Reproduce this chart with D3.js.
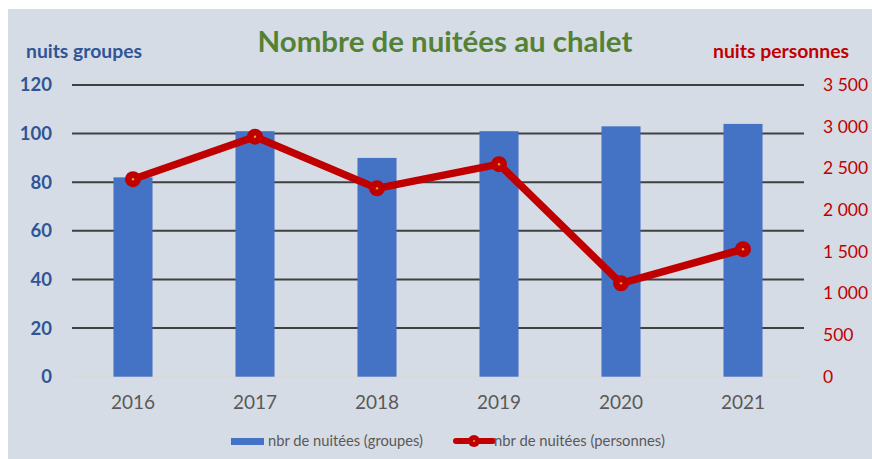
<!DOCTYPE html>
<html><head><meta charset="utf-8">
<script src="https://cdn.jsdelivr.net/npm/d3@7"></script>
<style>html,body{margin:0;padding:0;background:#fff;} svg{display:block;font-family:Lato,"Open Sans",sans-serif;}</style>
</head><body>
<script>
const years = ["2016","2017","2018","2019","2020","2021"];
const groupNights = [82, 101, 90, 101, 103, 104];
const personNights = [2370, 2880, 2260, 2550, 1120, 1530];
const leftTicks = [0, 20, 40, 60, 80, 100, 120];
const rightTicks = [0, 500, 1000, 1500, 2000, 2500, 3000, 3500];
const titleText = "Nombre de nuitées au chalet";
const leftTitle = "nuits groupes";
const rightTitle = "nuits personnes";
const legendBars = "nbr de nuitées (groupes)";
const legendLine = "nbr de nuitées (personnes)";

const W = 872, H = 459;
const svg = d3.select("body").append("svg").attr("width", W).attr("height", H);
svg.append("rect").attr("x", 8).attr("y", 9).attr("width", W - 8).attr("height", H - 9).attr("fill", "#D6DCE5");

const x0 = 72, x1 = 804, yTop = 85, yBot = 376.7;
const x = d3.scaleBand().domain(years).range([x0, x1]).paddingInner(0.68).paddingOuter(0.34);
const yL = d3.scaleLinear().domain([0, 120]).range([yBot, yTop]);
const yR = d3.scaleLinear().domain([0, 3500]).range([yBot, yTop]);

function fitText(sel, target) {
  const w = sel.node().getComputedTextLength();
  const fs = parseFloat(sel.attr("font-size"));
  sel.attr("font-size", (fs * target / w).toFixed(2));
}

// gridlines
svg.append("g").selectAll("line").data(leftTicks).join("line")
  .attr("x1", x0).attr("x2", x1).attr("y1", d => yL(d)).attr("y2", d => yL(d))
  .attr("stroke", d => d === 0 ? "#D9D9D9" : "#404040").attr("stroke-width", 2);

// bars
svg.append("g").selectAll("rect").data(groupNights).join("rect")
  .attr("x", (d, i) => x(years[i])).attr("width", x.bandwidth())
  .attr("y", d => yL(d)).attr("height", d => yBot - yL(d)).attr("fill", "#4472C4");

// line
const line = d3.line().x((d, i) => x(years[i]) + x.bandwidth() / 2).y(d => yR(d));
svg.append("path").datum(personNights).attr("d", line).attr("fill", "none")
  .attr("stroke", "#C00000").attr("stroke-width", 7.5).attr("stroke-linejoin", "round");
const pts = svg.append("g").selectAll("g").data(personNights).join("g")
  .attr("transform", (d, i) => `translate(${x(years[i]) + x.bandwidth() / 2},${yR(d)})`);
pts.append("circle").attr("r", 8).attr("fill", "#C00000");
pts.append("circle").attr("r", 1.2).attr("fill", "#F4A020");

// left axis labels
const la = d3.axisLeft(yL).tickValues(leftTicks).tickSize(0).tickPadding(0);
const gl = svg.append("g").attr("transform", "translate(52,0)").call(la);
gl.select(".domain").remove();
gl.selectAll("text").attr("fill", "#2F5597").attr("font-size", 18.5).attr("font-weight", "bold")
  .attr("font-family", "Lato,sans-serif");

// right axis labels
const ra = d3.axisRight(yR).tickValues(rightTicks).tickSize(0).tickPadding(0)
  .tickFormat(d => d3.format(",")(d).replace(/,/g, "\u00A0"));
const gr = svg.append("g").attr("transform", "translate(823,0)").call(ra);
gr.select(".domain").remove();
gr.selectAll("text").attr("fill", "#C00000").attr("font-size", 17.5).attr("font-family", "Lato,sans-serif");

// x axis labels
const xa = d3.axisBottom(x).tickSize(0).tickPadding(0);
const gx = svg.append("g").attr("transform", "translate(0,395)").call(xa);
gx.select(".domain").remove();
gx.selectAll("text").attr("fill", "#595959").attr("font-size", 19).attr("font-family", "Lato,sans-serif");

// titles
const t = svg.append("text").attr("x", 445).attr("y", 52).attr("text-anchor", "middle")
  .attr("font-size", 27).attr("font-weight", "bold").attr("fill", "#548235").text(titleText);
fitText(t, 375);
const lt = svg.append("text").attr("x", 26).attr("y", 58).attr("font-size", 16).attr("font-weight", "bold")
  .attr("fill", "#2F5597").text(leftTitle);
fitText(lt, 116);
const rt = svg.append("text").attr("x", 713).attr("y", 58).attr("font-size", 16).attr("font-weight", "bold")
  .attr("fill", "#C00000").text(rightTitle);
fitText(rt, 136);

// legend
const lg = svg.append("g");
lg.append("rect").attr("x", 231).attr("y", 438).attr("width", 33).attr("height", 7).attr("fill", "#4472C4");
const l1 = lg.append("text").attr("x", 268).attr("y", 446).attr("font-size", 13).attr("fill", "#595959").text(legendBars);
fitText(l1, 155);
lg.append("line").attr("x1", 456).attr("x2", 493).attr("y1", 441).attr("y2", 441)
  .attr("stroke", "#C00000").attr("stroke-width", 6).attr("stroke-linecap", "round");
lg.append("circle").attr("cx", 474).attr("cy", 441).attr("r", 6).attr("fill", "#C00000");
lg.append("circle").attr("cx", 474).attr("cy", 441).attr("r", 1).attr("fill", "#F4A020");
const l2 = lg.append("text").attr("x", 494).attr("y", 446).attr("font-size", 13).attr("fill", "#595959").text(legendLine);
fitText(l2, 171);
</script>
</body></html>
